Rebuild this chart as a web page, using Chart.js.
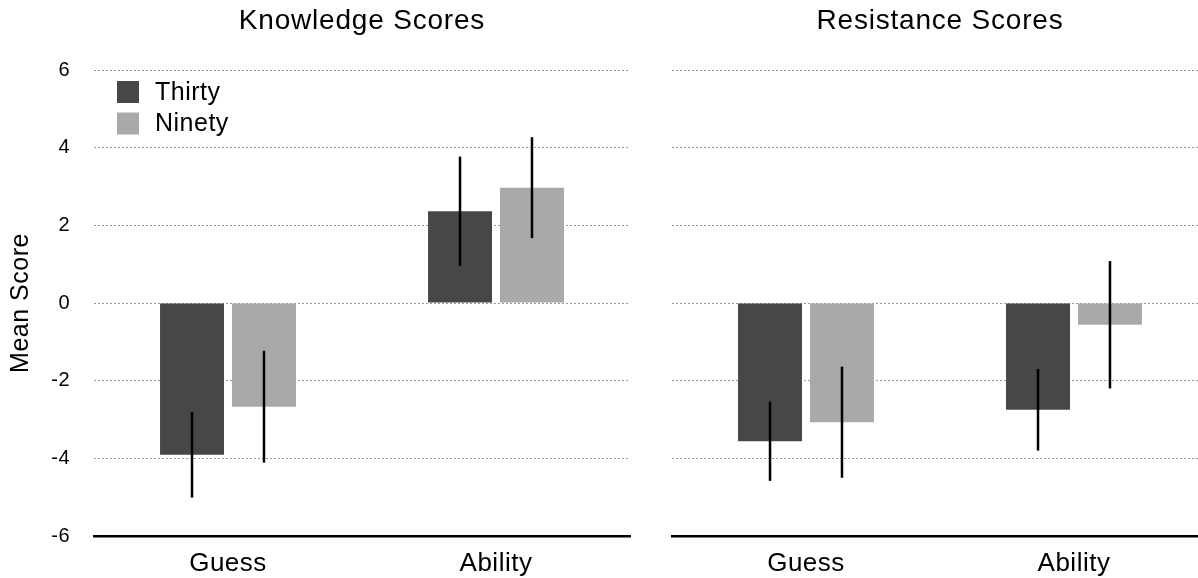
<!DOCTYPE html>
<html>
<head>
<meta charset="utf-8">
<script src="https://cdn.jsdelivr.net/npm/chart.js@4/dist/chart.umd.min.js"></script>
<style>
  html, body { margin: 0; padding: 0; background: #fff; overflow: hidden; width: 1198px; height: 578px; }
  .panel { position: absolute; top: 0; }
  #left { left: 0; }
  #right { left: 640px; }
</style>
</head>
<body>
<div class="panel" id="left"><canvas id="knowledge" width="640" height="578"></canvas></div>
<div class="panel" id="right"><canvas id="resistance" width="578" height="578"></canvas></div>
<script>
// Categories and group names
const categories = ['Guess', 'Ability'];
const groupNames = ['Thirty', 'Ninety'];

// Knowledge scores: means and error half-widths
const knowledgeThirty = [-3.91, 2.36];
const knowledgeNinety = [-2.67, 2.97];
const knowledgeThirtyErr = [1.10, 1.41];
const knowledgeNinetyErr = [1.44, 1.30];

// Resistance scores: means and error half-widths
const resistanceThirty = [-3.56, -2.75];
const resistanceNinety = [-3.07, -0.56];
const resistanceThirtyErr = [1.02, 1.05];
const resistanceNinetyErr = [1.43, 1.64];

// Y axis range and tick spacing
const yMin = -6;
const yMax = 6;
const yStep = 2;

const FONT = '"Liberation Sans", Arial, Helvetica, sans-serif';
const COLORS = ['#474747', '#a9a9a9'];

// Slightly looser text tracking for every label on the canvas
const textTracking = {
  id: 'textTracking',
  beforeUpdate(chart) { chart.ctx.letterSpacing = '0.5px'; },
  beforeDraw(chart) { chart.ctx.letterSpacing = '0.5px'; }
};

// Vertical error bars drawn at each bar's centre
const errorBars = {
  id: 'errorBars',
  afterDatasetsDraw(chart) {
    const ctx = chart.ctx;
    const y = chart.scales.y;
    ctx.save();
    ctx.strokeStyle = '#000';
    ctx.lineWidth = 2.5;
    chart.data.datasets.forEach((ds, i) => {
      const meta = chart.getDatasetMeta(i);
      meta.data.forEach((bar, j) => {
        const v = ds.data[j], e = ds.errors[j];
        ctx.beginPath();
        ctx.moveTo(bar.x, y.getPixelForValue(v + e));
        ctx.lineTo(bar.x, y.getPixelForValue(v - e));
        ctx.stroke();
      });
    });
    ctx.restore();
  }
};

// Panel heading centred over the plot area
const panelTitle = {
  id: 'panelTitle',
  afterDraw(chart, args, opts) {
    const ctx = chart.ctx, a = chart.chartArea;
    ctx.save();
    ctx.font = '28px ' + FONT;
    ctx.letterSpacing = '0.8px';
    ctx.fillStyle = '#000';
    ctx.textAlign = 'center';
    ctx.textBaseline = 'middle';
    ctx.fillText(opts.text, (a.left + a.right) / 2, 21);
    ctx.restore();
  }
};

// Square-swatch legend inside the plot area
const swatchLegend = {
  id: 'swatchLegend',
  afterDraw(chart, args, opts) {
    if (!opts.show) return;
    const ctx = chart.ctx, a = chart.chartArea;
    ctx.save();
    ctx.font = '25px ' + FONT;
    ctx.textBaseline = 'middle';
    chart.data.datasets.forEach((ds, i) => {
      const bx = a.left + 23, by = a.top + 11 + i * 31.5;
      ctx.fillStyle = ds.backgroundColor;
      ctx.fillRect(bx, by, 22, 22);
      ctx.fillStyle = '#000';
      ctx.fillText(ds.label, bx + 38, by + 12);
    });
    ctx.restore();
  }
};

function makePanel(canvasId, title, thirty, ninety, thirtyErr, ninetyErr, showAxis) {
  const axisWidth = showAxis ? 94 : 32;
  return new Chart(document.getElementById(canvasId), {
    type: 'bar',
    data: {
      labels: categories,
      datasets: [
        { label: groupNames[0], data: thirty, errors: thirtyErr, backgroundColor: COLORS[0] },
        { label: groupNames[1], data: ninety, errors: ninetyErr, backgroundColor: COLORS[1] }
      ]
    },
    options: {
      responsive: false,
      animation: false,
      devicePixelRatio: 1,
      layout: { padding: { top: 70, right: 10, bottom: 0, left: 0 } },
      datasets: { bar: { barPercentage: 0.889, categoryPercentage: 0.537 } },
      plugins: {
        legend: { display: false },
        tooltip: { enabled: false },
        title: { display: false },
        panelTitle: { text: title },
        swatchLegend: { show: showAxis }
      },
      scales: {
        x: {
          grid: { display: false, drawTicks: false },
          border: { display: true, color: '#000', width: 2.5 },
          ticks: { color: '#000', font: { family: FONT, size: 26 }, padding: 12 },
          afterFit(scale) { scale.height = 42; }
        },
        y: {
          min: yMin, max: yMax,
          ticks: {
            stepSize: yStep,
            display: showAxis,
            color: '#000',
            font: { family: FONT, size: 20 },
            padding: 24
          },
          grid: {
            drawTicks: false,
            color: ctx => (ctx.tick && ctx.tick.value === yMin) ? 'rgba(0,0,0,0)' : '#999',
            lineWidth: 1
          },
          border: { display: false, dash: [2, 2] },
          title: {
            display: showAxis,
            text: 'Mean Score',
            color: '#000',
            font: { family: FONT, size: 25 },
            padding: { top: 6, bottom: 0 }
          },
          afterFit(scale) { scale.width = axisWidth; }
        }
      }
    },
    plugins: [textTracking, errorBars, panelTitle, swatchLegend]
  });
}

makePanel('knowledge', 'Knowledge Scores', knowledgeThirty, knowledgeNinety, knowledgeThirtyErr, knowledgeNinetyErr, true);
makePanel('resistance', 'Resistance Scores', resistanceThirty, resistanceNinety, resistanceThirtyErr, resistanceNinetyErr, false);
</script>
</body>
</html>
